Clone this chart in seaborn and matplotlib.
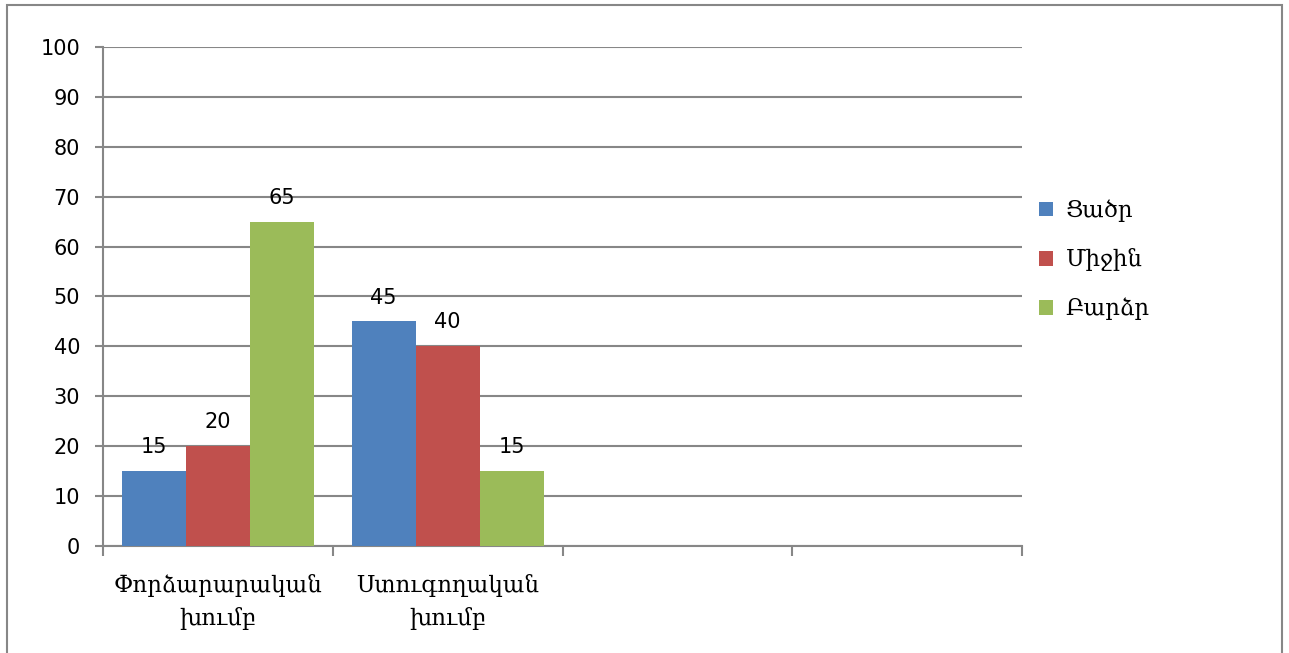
import pandas as pd
import seaborn as sns
import matplotlib.pyplot as plt
from matplotlib.patches import Rectangle

groups = ["Փորձարարական\nխումբ", "Ստուգողական\nխումբ"]
empty_slots = ["", " "]
levels = ["Ցածր", "Միջին", "Բարձր"]
low = [15, 45]
middle = [20, 40]
high = [65, 15]

colors = ["#4F81BD", "#C0504D", "#9BBB59"]
grey = "#878787"
armenian = ["DejaVu Serif", "DejaVu Sans"]

df = pd.DataFrame({
    "group": groups * 3,
    "level": [levels[0]] * 2 + [levels[1]] * 2 + [levels[2]] * 2,
    "value": low + middle + high,
})

fig = plt.figure(figsize=(12.89, 6.53), dpi=100)
ax = fig.add_axes([0.0799, 0.1639, 0.7130, 0.7642])

sns.barplot(data=df, x="group", y="value", hue="level", order=groups + empty_slots,
            hue_order=levels, palette=colors, width=0.835, saturation=1,
            errorbar=None, ax=ax, zorder=3)

ax.set_ylim(0, 100)
ax.set_xlim(-0.5, 3.5)
ax.set_yticks(range(0, 101, 10))
ax.grid(axis="y", color=grey, linewidth=1.5, zorder=0)
ax.set_axisbelow(True)
ax.set_xlabel("")
ax.set_ylabel("")

for side in ["top", "right"]:
    ax.spines[side].set_visible(False)
for side in ["left", "bottom"]:
    ax.spines[side].set_color(grey)
    ax.spines[side].set_linewidth(1.5)

ax.tick_params(axis="y", length=6, width=1.5, color=grey, pad=10.5, labelsize=15)
ax.tick_params(axis="x", which="major", length=0, pad=20)
ax.set_xticks([-0.5, 0.5, 1.5, 2.5, 3.5], minor=True)
ax.tick_params(axis="x", which="minor", length=7, width=1.5, color=grey)
for lbl in ax.get_xticklabels():
    lbl.set_family(armenian)
    lbl.set_fontsize(16.5)
    lbl.set_linespacing(1.55)

for c in ax.containers:
    ax.bar_label(c, fmt="%g", padding=10, fontsize=15)

handles, labels = ax.get_legend_handles_labels()
ax.legend(handles, labels, loc="center left", bbox_to_anchor=(0.806, 0.602),
          bbox_transform=fig.transFigure, frameon=False, prop={"family": armenian, "size": 16.5},
          handlelength=0.62, handleheight=0.62, handletextpad=0.55, labelspacing=1.15,
          borderpad=0, borderaxespad=0)

fig.patches.append(Rectangle((7 / 1289, -0.02), 1275 / 1289, 1.02 - 5 / 653,
                             transform=fig.transFigure, fill=False,
                             edgecolor=grey, linewidth=1.5))

fig.savefig("out.png", dpi=100)
